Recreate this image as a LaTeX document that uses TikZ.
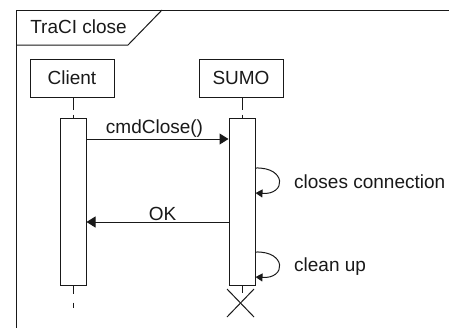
\documentclass[tikz,border=0pt]{standalone}
\usepackage{fontspec}
\setmainfont{Liberation Sans}
\usetikzlibrary{arrows.meta,calc}
\begin{document}
\begin{tikzpicture}[x=1pt,y=-1pt,
  every node/.style={font=\fontsize{19}{22}\selectfont, text=black!90},
  line/.style={draw=black!90, line width=1pt},
  lifebox/.style={line, rectangle, minimum width=84pt, minimum height=38pt, inner sep=0pt},
  actbar/.style={line, rectangle, fill=white, minimum width=26pt, minimum height=167pt, inner sep=0pt},
  msg/.style={line, -{Triangle[length=9pt,width=11pt]}},
  selfmsg/.style={line, -{Triangle[length=7pt,width=8pt]}},
  lifeline/.style={line, dash pattern=on 12pt off 5pt},
  lbl/.style={anchor=west, inner sep=0pt}
]
\useasboundingbox (0,0) rectangle (449,327);
% frame
\coordinate (fbl) at (16,330);
\coordinate (ftl) at (16,10);
\coordinate (ftr) at (452,10);
\draw[line] (fbl) -- (ftl) -- (ftr);
\coordinate (tabbl) at (16,45);
\coordinate (tabbr) at (128,45);
\coordinate (tabtr) at (162,10);
\draw[line] (tabbl) -- (tabbr) -- (tabtr);
\node[inner sep=0pt] (title) at (78.5,27) {TraCI close};
% lifeline heads
\node[lifebox] (client) at (72,78) {Client};
\node[lifebox] (sumo) at (241,78) {SUMO};
% activation bars
\node[actbar] (cb) at (73,201.5) {};
\node[actbar] (sb) at (242,201.5) {};
% lifelines
\draw[lifeline] (client.south -| cb.north) -- (cb.north);
\draw[lifeline] (sumo.south -| sb.north) -- (sb.north);
\coordinate (cend) at (73,308);
\draw[line, dash pattern=on 8pt off 9pt] (cb.south) -- (cend);
\coordinate (send) at (242,293);
\draw[line] (sb.south) -- (send);
% destroy X
\coordinate (x1) at (227,289);
\coordinate (x2) at (254,317);
\coordinate (x3) at (254,289);
\coordinate (x4) at (227,317);
\draw[line] (x1) -- (x2);
\draw[line] (x3) -- (x4);
% messages
\draw[msg] (cb.east |- 0,139) -- node[midway, above, inner sep=1pt, xshift=-3pt] {cmdClose()} (sb.west |- 0,139);
\draw[msg] (sb.west |- 0,222) -- node[midway, above, inner sep=1pt, xshift=5pt] {OK} (cb.east |- 0,222);
% self messages
\draw[selfmsg] (sb.east |- 0,168) .. controls +(31,-1) and +(31,2) .. (sb.east |- 0,193);
\node[lbl] (l1) at (294,182) {closes connection};
\draw[selfmsg] (sb.east |- 0,252) .. controls +(31,-1) and +(31,2) .. (sb.east |- 0,277);
\node[lbl] (l2) at (294,267) {clean up};
\end{tikzpicture}
\end{document}
